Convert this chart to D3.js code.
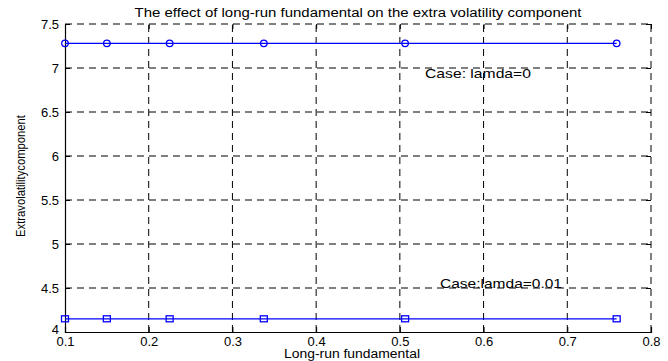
<!DOCTYPE html>
<html><head><meta charset="utf-8">
<script src="https://cdn.jsdelivr.net/npm/d3@7"></script>
<style>body{margin:0;background:#fff}svg{display:block}text{font-family:"Liberation Sans",Arial,sans-serif;fill:#000}</style>
</head><body>
<script>
const xValues = [0.1, 0.15, 0.225, 0.3375, 0.50625, 0.759];
const seriesLamda0 = [7.28, 7.28, 7.28, 7.28, 7.28, 7.28];
const seriesLamda001 = [4.15, 4.15, 4.15, 4.15, 4.15, 4.15];
const xTicks = [0.1, 0.2, 0.3, 0.4, 0.5, 0.6, 0.7, 0.8];
const yTicks = [4, 4.5, 5, 5.5, 6, 6.5, 7, 7.5];
const titleText = "The effect of long-run fundamental on the extra volatility component";
const xLabel = "Long-run fundamental";
const yLabel = "Extravolatilitycomponent";
const note0 = "Case: lamda=0";
const note1 = "Case:lamda=0.01";

const W = 668, H = 361;
const m = {l: 65, r: 17, t: 24, b: 29};
const svg = d3.select("body").append("svg").attr("width", W).attr("height", H);
const x = d3.scaleLinear().domain([0.1, 0.8]).range([m.l, W - m.r]);
const y = d3.scaleLinear().domain([4, 7.5]).range([H - m.b, m.t]);

// grid
const g = svg.append("g");
g.selectAll(".gx").data(xTicks.slice(1)).enter().append("line")
  .attr("x1", d => x(d)).attr("x2", d => x(d)).attr("y1", y(4)).attr("y2", y(7.5))
  .attr("stroke", "#000").attr("stroke-width", 1).attr("stroke-dasharray", "7,5");
g.selectAll(".gy").data(yTicks.slice(1)).enter().append("line")
  .attr("x1", x(0.1)).attr("x2", x(0.8)).attr("y1", d => y(d)).attr("y2", d => y(d))
  .attr("stroke", "#000").attr("stroke-width", 1).attr("stroke-dasharray", "7,5");

// axes
const xAxis = d3.axisBottom(x).tickValues(xTicks).tickSize(-5).tickPadding(8).tickFormat(d3.format(".1f"));
const yAxis = d3.axisLeft(y).tickValues(yTicks).tickSize(-5).tickPadding(6).tickFormat(d => String(d));
const gx = svg.append("g").attr("transform", `translate(0,${y(4)})`).call(xAxis);
const gy = svg.append("g").attr("transform", `translate(${x(0.1)},0)`).call(yAxis);
[gx, gy].forEach(a => {
  a.select(".domain").attr("stroke", "#000").attr("stroke-width", 1.2);
  a.selectAll(".tick line").attr("stroke", "#000");
  a.selectAll("text").style("font-family", "Liberation Sans, Arial, sans-serif").style("font-size", "13px").attr("fill", "#000");
});
gx.selectAll("text").attr("dy", "0.35em").attr("y", 9);
gy.selectAll(".tick text").filter(d => d === 4).attr("dy", "0.1em");
// top/right ticks
svg.append("g").attr("transform", `translate(0,${y(7.5)})`).call(d3.axisTop(x).tickValues(xTicks).tickSize(-5).tickFormat(""))
  .call(a => { a.select(".domain").remove(); a.selectAll("line").attr("stroke", "#000"); });
svg.append("g").attr("transform", `translate(${x(0.8)},0)`).call(d3.axisRight(y).tickValues(yTicks).tickSize(-5).tickFormat(""))
  .call(a => { a.select(".domain").remove(); a.selectAll("line").attr("stroke", "#000"); });

// series
const line = d3.line().x(d => x(d[0])).y(d => y(d[1]));
const d0 = xValues.map((v, i) => [v, seriesLamda0[i]]);
const d1 = xValues.map((v, i) => [v, seriesLamda001[i]]);
svg.append("path").datum(d0).attr("d", line).attr("fill", "none").attr("stroke", "#0000ff").attr("stroke-width", 1.2);
svg.append("path").datum(d1).attr("d", line).attr("fill", "none").attr("stroke", "#0000ff").attr("stroke-width", 1.2);
svg.selectAll(".c").data(d0).enter().append("circle")
  .attr("cx", d => x(d[0])).attr("cy", d => y(d[1])).attr("r", 3.3)
  .attr("fill", "none").attr("stroke", "#0000ff").attr("stroke-width", 1.3);
svg.selectAll(".s").data(d1).enter().append("rect")
  .attr("x", d => x(d[0]) - 3.5).attr("y", d => y(d[1]) - 3).attr("width", 7).attr("height", 6)
  .attr("fill", "none").attr("stroke", "#0000ff").attr("stroke-width", 1.3);

// texts
svg.append("text").attr("x", 358).attr("y", 17).attr("text-anchor", "middle").style("font-size", "12px")
  .attr("textLength", 447).attr("lengthAdjust", "spacingAndGlyphs").text(titleText);
svg.append("text").attr("x", 352).attr("y", 358).attr("text-anchor", "middle").style("font-size", "12px")
  .attr("textLength", 136).attr("lengthAdjust", "spacingAndGlyphs").text(xLabel);
svg.append("text").attr("transform", `translate(25,176) rotate(-90)`).attr("text-anchor", "middle").style("font-size", "12px")
  .attr("textLength", 122).attr("lengthAdjust", "spacingAndGlyphs").text(yLabel);
svg.append("text").attr("x", 425).attr("y", 78).style("font-size", "13px")
  .attr("textLength", 106).attr("lengthAdjust", "spacingAndGlyphs").text(note0);
svg.append("text").attr("x", 440).attr("y", 288).style("font-size", "13px")
  .attr("textLength", 122).attr("lengthAdjust", "spacingAndGlyphs").text(note1);
</script>
</body></html>
